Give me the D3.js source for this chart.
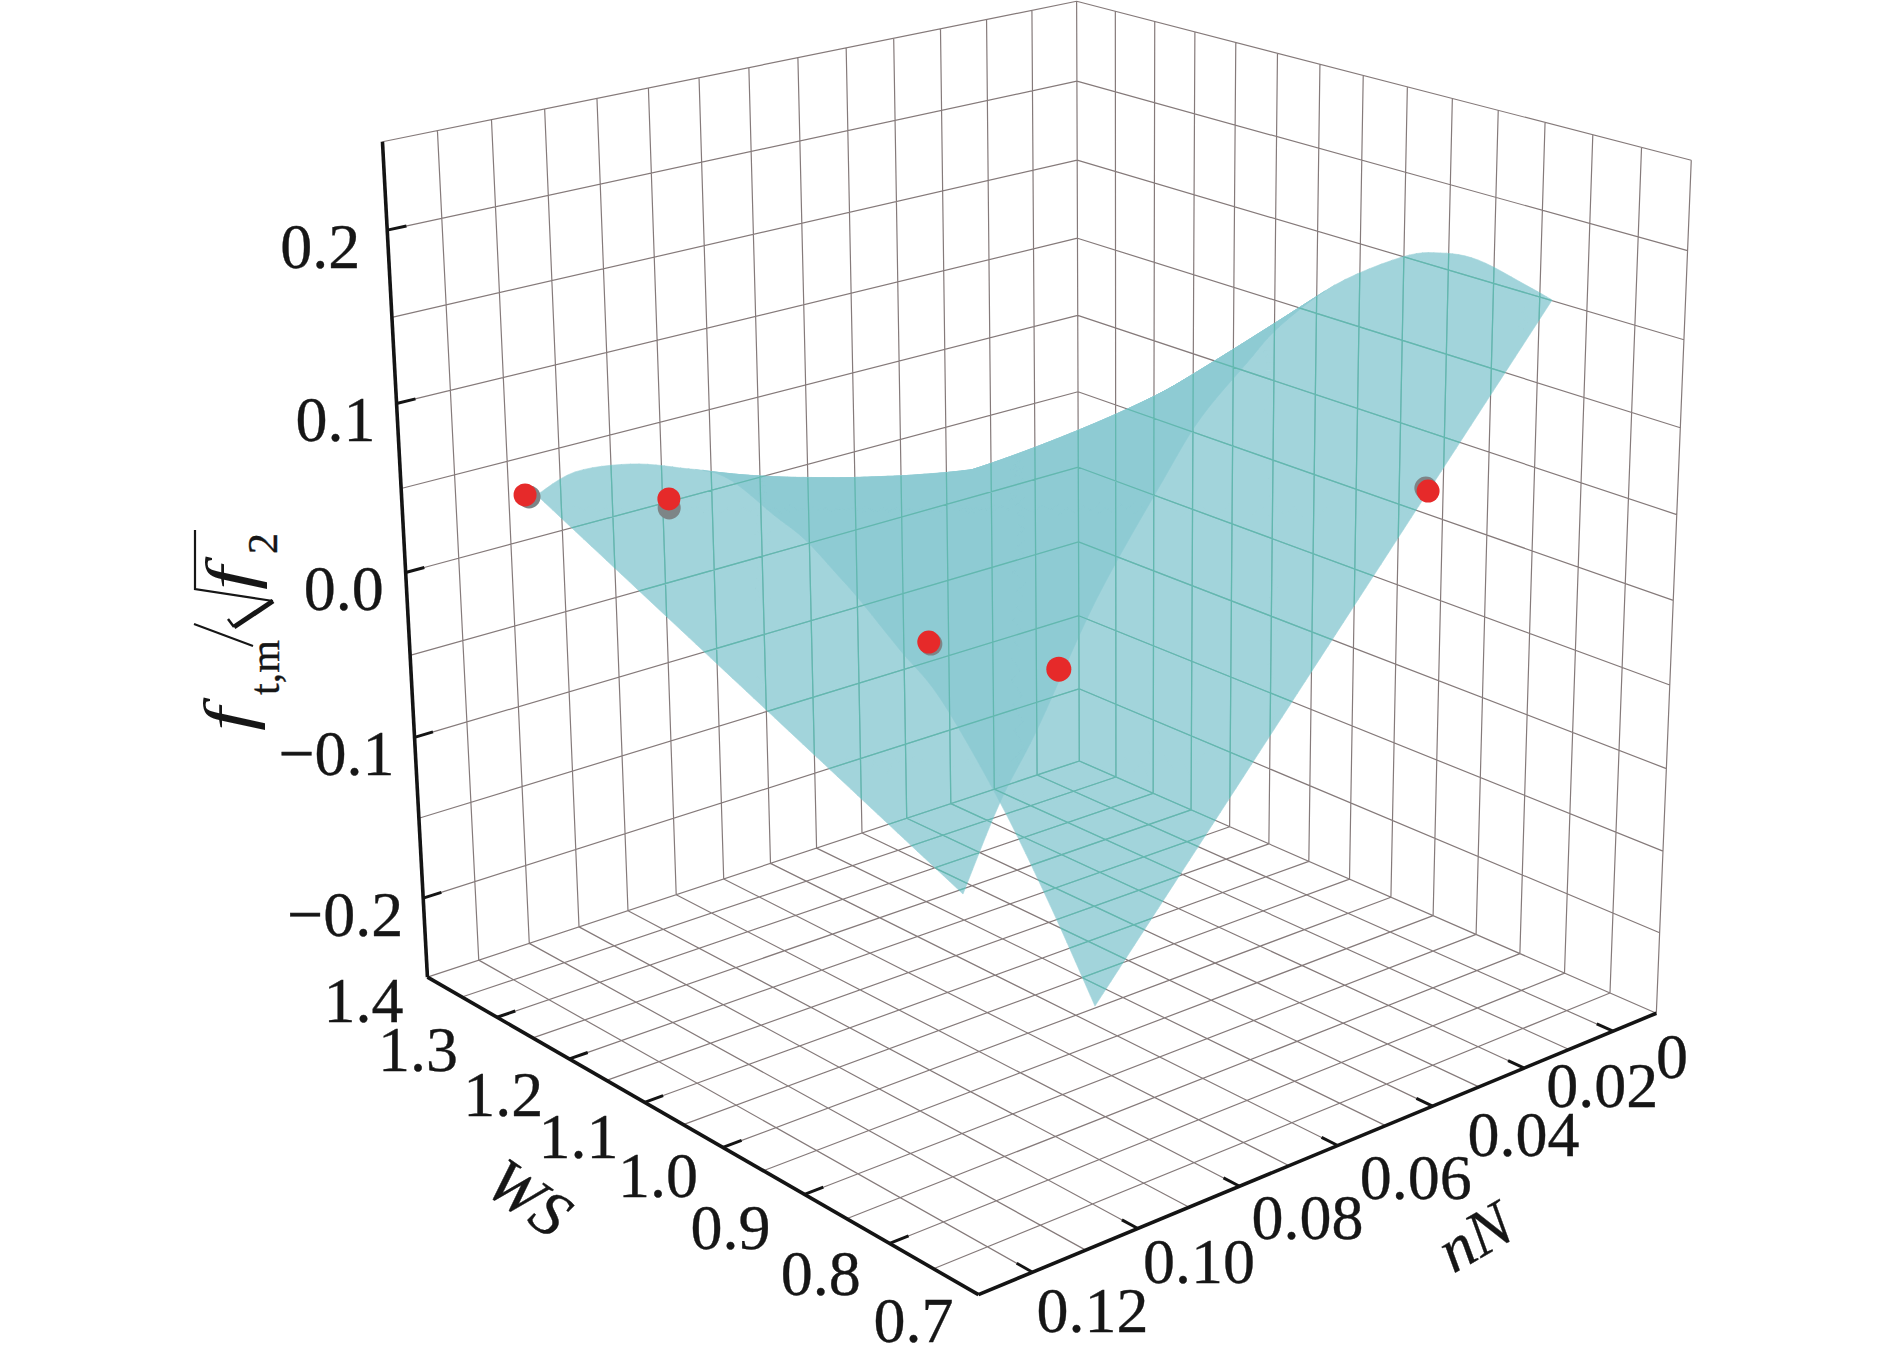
<!DOCTYPE html>
<html><head><meta charset="utf-8"><style>html,body{margin:0;background:#fff}svg{display:block}
text{font-family:"Liberation Serif",serif;fill:#161616;stroke:#161616;stroke-width:0.35px}</style>
<script src="https://cdn.jsdelivr.net/npm/d3@7"></script></head><body>
<svg id="c" width="1890" height="1345"></svg>
<script>
// ---- axis values ----
const nNTicks=[0,0.02,0.04,0.06,0.08,0.10,0.12];
const nNLabels=["0","0.02","0.04","0.06","0.08","0.10","0.12"];
const wsTicks=[1.4,1.3,1.2,1.1,1.0,0.9,0.8,0.7];
const wsLabels=["1.4","1.3","1.2","1.1","1.0","0.9","0.8","0.7"];
const zTicks=[0.2,0.1,0,-0.1,-0.2];
const zLabels=["0.2","0.1","0.0","\u22120.1","\u22120.2"];
const nNGrid=d3.range(15).map(i=>-0.01+i*0.01);
const wsGrid=d3.range(15).map(i=>1.4-i*0.05);
const zGrid=d3.range(11).map(i=>-0.25+i*0.05);
// ---- surface: one WS row per entry, each row runs from its first to its second nN ----
const surfaceWS=[1.22,1.19,1.16,1.13,1.10,1.07,1.04,1.01,0.98,0.95,0.92,0.89,0.85,0.81];
const surfaceNN1=[0.1288,0.1258,0.1199,0.1151,0.1112,0.1068,0.1057,0.1043,0.1050,0.1024,0.0996,0.0936,0.0908,0.0890];
const surfaceZ1=[0.0785,0.0947,0.0999,0.0993,0.0966,0.0770,0.0680,0.0525,0.0452,0.0210,-0.0034,-0.0605,-0.1132,-0.1637];
const surfaceNN2=[0.0469,0.0436,0.0404,0.0329,0.0237,0.0212,0.0166,0.0152,0.0091,0.0004,-0.0020,-0.0043,-0.0068,-0.0043];
const surfaceZ2=[-0.2411,-0.1779,-0.1274,-0.0479,0.0239,0.0643,0.0997,0.1253,0.1499,0.1648,0.1702,0.1692,0.1592,0.1588];
// ---- points ----
const redNN=[0.1309,0.1216,0.0889,0.0803,0.0197];
const redWS=[1.22,1.10,1.00,0.90,0.82];
const redZ=[0.0803,0.0927,0.0030,0.0004,0.0657];
const greyNN=[0.1302,0.1216,0.0885,0.0803,0.0202];
const greyWS=[1.22,1.10,1.00,0.90,0.82];
const greyZ=[0.0786,0.0877,0.0015,0.0004,0.0678];

// ---- camera calibrated on the box corners (n, w, t, px, py) ----
const frame=[[1,0,0,428,977],[1,1,0,978,1295],[0,1,0,1657,1012.5],[0,0,0,1078.6,761.5],[1,0,1,382.3,141.6],[0,0,1,1077,1],[0,1,1,1691,160.7]];
function solve(A,b){const n=b.length;const M=A.map((r,i)=>[...r,b[i]]);for(let i=0;i<n;i++){let p=i;for(let k=i;k<n;k++)if(Math.abs(M[k][i])>Math.abs(M[p][i]))p=k;[M[i],M[p]]=[M[p],M[i]];for(let k=0;k<n;k++)if(k!==i){const f=M[k][i]/M[i][i];for(let j=i;j<=n;j++)M[k][j]-=f*M[i][j];}}return M.map((r,i)=>r[n]/r[i]);}
const R=[],S=[];frame.forEach(([a,b,c,X,Y])=>{R.push([a,b,c,1,0,0,0,0,-X*a,-X*b,-X*c]);S.push(X);R.push([0,0,0,0,a,b,c,1,-Y*a,-Y*b,-Y*c]);S.push(Y);});
const AT=d3.range(11).map(i=>d3.range(11).map(j=>d3.sum(R,r=>r[i]*r[j])));const AB=d3.range(11).map(i=>d3.sum(R,(r,k)=>r[i]*S[k]));
const p=solve(AT,AB);
const sn=d3.scaleLinear([-0.01,0.13],[0,1]),sw=d3.scaleLinear([1.4,0.7],[0,1]),st=d3.scaleLinear([-0.25,0.25],[0,1]);
function proj(nN,ws,z){const a=sn(nN),b=sw(ws),c=st(z),d=p[8]*a+p[9]*b+p[10]*c+1;return [(p[0]*a+p[1]*b+p[2]*c+p[3])/d,(p[4]*a+p[5]*b+p[6]*c+p[7])/d];}

const svg=d3.select("#c");
const nMin=-0.01,nMax=0.13,wMax=1.4,wMin=0.7,zMin=-0.25,zMax=0.25;
const segs=[];
nNGrid.forEach(v=>{segs.push([[v,wMax,zMin],[v,wMin,zMin]]);segs.push([[v,wMax,zMin],[v,wMax,zMax]]);});
wsGrid.forEach(v=>{segs.push([[nMin,v,zMin],[nMax,v,zMin]]);segs.push([[nMin,v,zMin],[nMin,v,zMax]]);});
zGrid.forEach(v=>{segs.push([[nMax,wMax,v],[nMin,wMax,v]]);segs.push([[nMin,wMax,v],[nMin,wMin,v]]);});
const segD=s=>d3.line()(s.map(q=>proj(...q)));
const gridD=segs.map(segD).join("");
svg.append("path").attr("d",gridD).attr("fill","none").attr("stroke","#857a7a").attr("stroke-width",1.2);

// surface: rows smoothed for drawing, split by screen facing so the fold shows as a double layer
const M=6,N=60;const last=surfaceWS.length-1;
function spline(a,u){const i=Math.min(Math.floor(u),last-1),t=u-i,p0=a[Math.max(i-1,0)],p1=a[i],p2=a[i+1],p3=a[Math.min(i+2,last)];
  return 0.5*(2*p1+(p2-p0)*t+(2*p0-5*p1+4*p2-p3)*t*t+(3*p1-p0-3*p2+p3)*t*t*t);}
const at=(u,s)=>{const a=spline(surfaceNN1,u),b=spline(surfaceNN2,u),c=spline(surfaceZ1,u),d=spline(surfaceZ2,u);return proj(a+(b-a)*s,spline(surfaceWS,u),c+(d-c)*s);};
const pos=d3.path(),neg=d3.path();
for(let r=0;r<last*M;r++)for(let k=0;k<N;k++){
  const u0=r/M,u1=(r+1)/M;
  const q=[at(u0,k/N),at(u0,(k+1)/N),at(u1,(k+1)/N),at(u1,k/N)];
  const g=d3.polygonArea(q)>0?pos:neg;
  g.moveTo(...q[0]);g.lineTo(...q[1]);g.lineTo(...q[2]);g.lineTo(...q[3]);g.closePath();
}
const defs=svg.append("defs");
const cp=defs.append("clipPath").attr("id","surf");
[pos,neg].forEach(g=>{
  const d=g.toString();
  cp.append("path").attr("d",d);
  svg.append("path").attr("d",d).attr("fill","rgb(137,201,210)").attr("stroke","rgb(137,201,210)").attr("stroke-width",0.6).attr("opacity",0.78);
});
svg.append("path").attr("d",gridD).attr("fill","none").attr("stroke","#62b8af").attr("stroke-width",1.3).attr("clip-path","url(#surf)");

// axes
const black=(s,w)=>svg.append("path").attr("d",segD(s)).attr("fill","none").attr("stroke","#141414").attr("stroke-width",w);
black([[nMax,wMax,zMin],[nMax,wMax,zMax]],3.6);
black([[nMax,wMax,zMin],[nMax,wMin,zMin]],3.6);
black([[nMax,wMin,zMin],[nMin,wMin,zMin]],3.6);
zTicks.forEach(v=>black([[nMax,wMax,v],[nMax-0.0035,wMax,v]],3));
wsTicks.slice(1,-1).forEach(v=>black([[nMax,v,zMin],[nMax-0.0035,v,zMin]],3));
nNTicks.forEach(v=>black([[v,wMin,zMin],[v,wMin+0.0175,zMin]],3));

// labels
const FS=64;
const label=(x,y,t,anchor)=>svg.append("text").attr("x",x).attr("y",y).attr("text-anchor",anchor).attr("font-size",FS).text(t);
const zNudge=[[-27,38],[-21,38],[-22,38],[-20,38],[-20,38]];
zTicks.forEach((v,i)=>{const q=proj(nMax,wMax,v);label(q[0]+zNudge[i][0],q[1]+zNudge[i][1],zLabels[i],"end");});
const wsNudge=[[-24,45],[-39,54],[-26,57],[-26,56],[-25,50],[-34,55],[-29,52],[-25,47]];
wsTicks.forEach((v,i)=>{const q=proj(nMax,v,zMin);label(q[0]+wsNudge[i][0],q[1]+wsNudge[i][1],wsLabels[i],"end");});
const nNudge=[[43,47],[22,39],[35,50],[22,54],[12,53],[5,55],[4,60]];
nNTicks.forEach((v,i)=>{const q=proj(v,wMin,zMin);label(q[0]+nNudge[i][0],q[1]+nNudge[i][1],nNLabels[i],"start");});

// axis titles
const it=(tr,t,fs)=>svg.append("text").attr("transform",tr).attr("font-size",fs).attr("font-style","italic").text(t);
svg.append("text").attr("transform","translate(529,1198) rotate(35)").attr("text-anchor","middle").attr("dy","0.33em").attr("font-size",64).attr("font-style","italic").text("WS");
svg.append("text").attr("transform","translate(1475,1237) rotate(-30)").attr("text-anchor","middle").attr("dy","0.33em").attr("font-size",64).attr("font-style","italic").text("nN");
it("translate(251,731) rotate(-90) scale(1.25,1)","f",68).style("stroke-width","0");
svg.append("text").attr("transform","translate(279,695) rotate(-90)").attr("font-size",42).text("t,m");
svg.append("path").attr("d","M194,624L253,646").attr("stroke","#161616").attr("stroke-width",2).attr("fill","none");
svg.append("path").attr("d","M228,619L234,627").attr("stroke","#161616").attr("stroke-width",2.5).attr("fill","none");
svg.append("path").attr("d","M234,627L273,601").attr("stroke","#161616").attr("stroke-width",5).attr("fill","none");
svg.append("path").attr("d","M273,601L195,589L195,530").attr("stroke","#161616").attr("stroke-width",2.2).attr("fill","none");
it("translate(253,590) rotate(-90) scale(1.25,1)","f",68).style("stroke-width","0");
it("translate(277,554) rotate(-90)","2",42).attr("font-style","normal");

// points
greyZ.forEach((z,i)=>{const q=proj(greyNN[i],greyWS[i],z);svg.append("circle").attr("cx",q[0]).attr("cy",q[1]).attr("r",11.5).attr("fill","#7d8587");});
redZ.forEach((z,i)=>{const q=proj(redNN[i],redWS[i],z);svg.append("circle").attr("cx",q[0]).attr("cy",q[1]).attr("r",i==3?12.5:11.5).attr("fill","#e62a2a");});
</script></body></html>
